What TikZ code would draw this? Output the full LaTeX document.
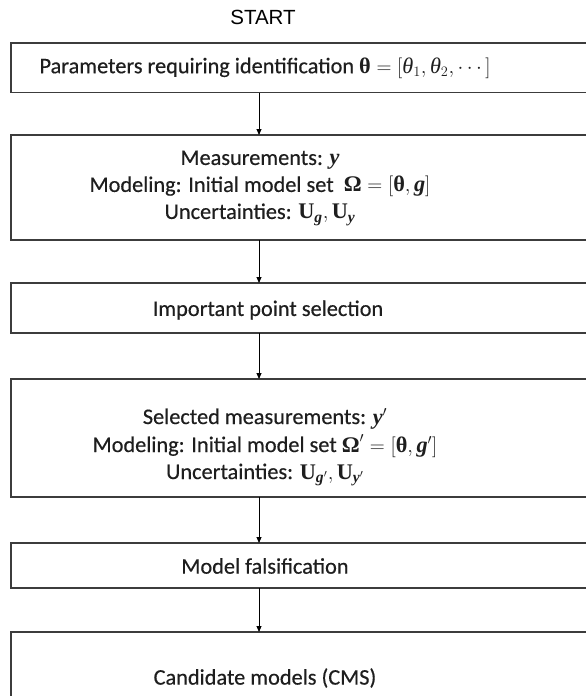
\documentclass[tikz,border=0pt]{standalone}
\usepackage{amsmath}
\usepackage{fontspec}
\setmainfont[FakeBold=0.4]{Carlito}
\newfontfamily\startfont{Liberation Sans}
\newfontfamily\mf{Liberation Serif}
\usetikzlibrary{arrows.meta}
\newcommand{\xbf}[1]{\text{\mf\bfseries #1}}
\newcommand{\xbi}[1]{\text{\mf\bfseries\itshape #1}}
\newcommand{\xit}[1]{\text{\mf\itshape #1}}
\definecolor{boxgray}{HTML}{3C3C3C}
\definecolor{txtc}{HTML}{1E1E1E}
\tikzset{
  stepbox/.style={draw=boxgray, line width=1.3pt, minimum width=600pt, anchor=north west, inner sep=0pt, outer sep=0pt},
  txt/.style={text=txtc, align=center, font=\fontsize{22.3}{27}\selectfont, inner sep=0pt},
  arr/.style={draw=black, line width=0.9pt, -{Triangle[length=6pt,width=5pt]}}
}
\begin{document}
\begin{tikzpicture}[x=1pt,y=1pt]
\useasboundingbox (0,0) rectangle (586,-696);
\clip (0,0) rectangle (586,-696);
\fill[white] (0,0) rectangle (586,-696);
\coordinate (ax) at (259,0);
\node[text=black, font=\startfont\fontsize{20.5}{24}\selectfont, inner sep=0pt] (start) at (263,-17) {START};

\node[stepbox, minimum height=49.6pt] (b1) at (11,-43) {};
\node[txt] (t1) at (265,-68) {Parameters requiring identification $\xbf{θ} = [\xit{θ}_1,\xit{θ}_2,\cdots]$};

\node[stepbox, minimum height=105pt] (b2) at (11,-135) {};
\node[txt] (t2) at (260,-188) {Measurements: $\xbi{y}$\\
Modeling: Initial model set\ \ $\xbf{Ω} = [\xbf{θ}, \xbi{g}]$\\
Uncertainties: $\xbf{U}_{\xbi{g}}, \xbf{U}_{\xbi{y}}$};

\node[stepbox, minimum height=50pt] (b3) at (11,-283) {};
\node[txt] (t3) at (268,-310) {Important point selection};

\node[stepbox, minimum height=118pt] (b4) at (11,-379) {};
\node[txt] (t4) at (265,-447) {Selected measurements: $\xbi{y}'$\\[1pt]
Modeling: Initial model set $\xbf{Ω}' = [\xbf{θ}, \xbi{g}']$\\
Uncertainties: $\xbf{U}_{\xbi{g}'}, \xbf{U}_{\xbi{y}'}$};

\node[stepbox, minimum height=45pt] (b5) at (11,-543) {};
\node[txt] (t5) at (265,-566) {Model falsification};

\node[stepbox, minimum height=90pt] (b6) at (11,-632) {};
\node[txt] (t6) at (265,-678) {Candidate models (CMS)};

\draw[arr] (b1.south -| ax) -- (b2.north -| ax);
\draw[arr] (b2.south -| ax) -- (b3.north -| ax);
\draw[arr] (b3.south -| ax) -- (b4.north -| ax);
\draw[arr] (b4.south -| ax) -- (b5.north -| ax);
\draw[arr] (b5.south -| ax) -- (b6.north -| ax);
\end{tikzpicture}
\end{document}
